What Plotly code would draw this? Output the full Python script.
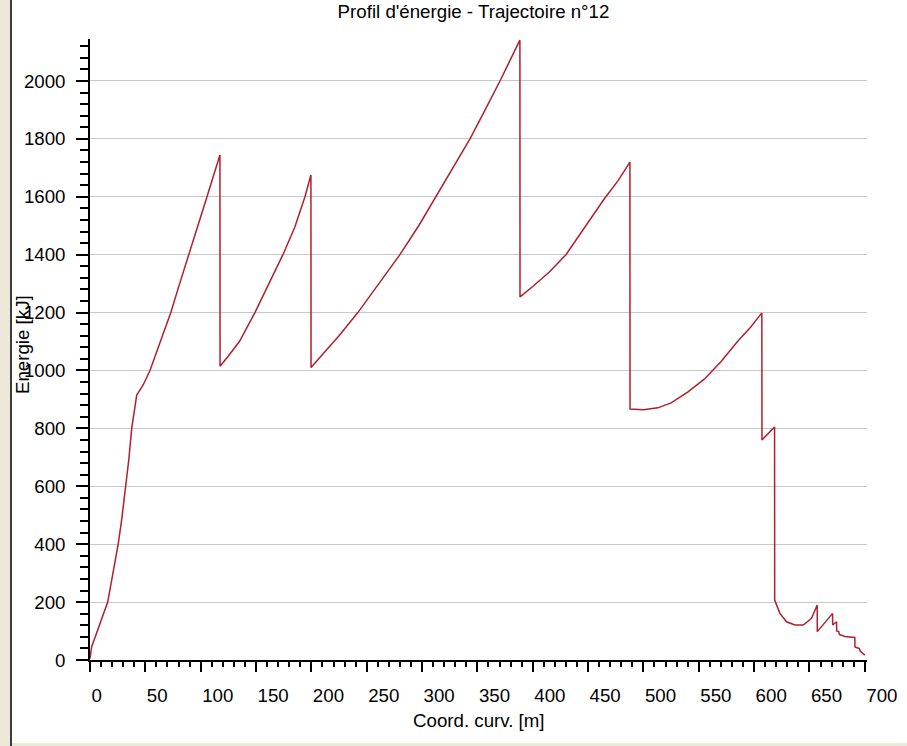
import plotly.graph_objects as go

# Data
coord_m = [0, 1.5, 6, 10.5, 16, 19.6, 25.6, 28.6, 32.5, 35, 37.7, 40.5, 42.2, 45.2, 48, 54.2, 63.5, 73, 81, 89, 97, 105.7, 117.4,
           117.5, 125, 135, 149, 160, 174.3, 185, 194.2, 199.6,
           199.7, 210, 225, 242, 260, 280, 297, 312.6, 328, 343.3, 357, 370.4, 388.4,
           388.5, 400, 415, 430, 448, 465, 477, 487.8,
           487.9, 500, 513, 525, 540, 555, 570, 585, 597, 607,
           607.1, 618.5,
           618.6, 623.3, 629.3, 636.9, 644.4, 651.9, 657,
           657.1, 670.9,
           671, 674.5, 674.6, 676.5, 677, 682, 691, 691.1, 695, 696, 700]
energy_kj = [5, 46, 93, 138, 200, 276, 404, 484, 600, 690, 800, 880, 915, 933, 950, 1000, 1100, 1200, 1300, 1400, 1500, 1600, 1744,
             1015, 1050, 1100, 1200, 1285, 1400, 1495, 1600, 1675,
             1010, 1055, 1120, 1200, 1295, 1400, 1500, 1600, 1700, 1800, 1900, 2000, 2141,
             1254, 1290, 1340, 1400, 1500, 1595, 1655, 1720,
             867, 864, 871, 888, 925, 970, 1030, 1100, 1150, 1199,
             760, 805,
             207, 161, 132, 121, 121, 144, 190,
             98, 161,
             121, 132, 100, 98, 88, 81, 78, 45, 40, 30, 17]

title_text = "Profil d'énergie - Trajectoire n°12"
x_title = "Coord. curv. [m]"
y_title = "Energie [kJ]"

FONT = "Liberation Sans, Arial, sans-serif"
FS = 18.7
L, R, T, B = 90, 40, 39, 86
W, H = 907, 746
PW, PH = W - L - R, H - T - B


def px_x(px):
    return (px - L) / PW


def px_y(py):
    return (H - B - py) / PH


fig = go.Figure()
fig.add_trace(go.Scatter(x=coord_m, y=energy_kj, mode="lines",
                         line=dict(color="#B0202C", width=1.5),
                         showlegend=False, hoverinfo="x+y"))

fig.update_layout(
    width=W, height=H,
    margin=dict(l=L, r=R, t=T, b=B, pad=0),
    paper_bgcolor="white", plot_bgcolor="white",
    font=dict(family=FONT, size=FS, color="black"),
    title=dict(text=title_text, x=473.5 / W, xanchor="center",
               y=1 - 11 / H, yanchor="middle", yref="container",
               font=dict(family=FONT, size=FS, color="black")),
    xaxis=dict(range=[0, 702], tick0=0, dtick=50, showgrid=False, zeroline=False,
               automargin=False,
               showline=True, linecolor="black", linewidth=1.5,
               ticks="outside", ticklen=10, tickwidth=1.5, tickcolor="black",
               ticklabelposition="outside right", ticklabelstandoff=18,
               tickfont=dict(family=FONT, size=FS, color="black"),
               minor=dict(dtick=10, ticks="outside", ticklen=5, tickwidth=1.5,
                          tickcolor="black", showgrid=False)),
    yaxis=dict(range=[0, 2145], tick0=0, dtick=200, showgrid=True, gridcolor="#C8C8C8",
               gridwidth=1, zeroline=False, automargin=False,
               showline=True, linecolor="black", linewidth=1.5,
               ticks="outside", ticklen=12, tickwidth=1.5, tickcolor="black",
               ticklabelstandoff=7,
               tickfont=dict(family=FONT, size=FS, color="black"),
               minor=dict(dtick=40, ticks="outside", ticklen=8, tickwidth=1.5,
                          tickcolor="black", showgrid=False)),
    annotations=[
        dict(text=x_title, xref="paper", yref="paper", x=0.5, y=px_y(720),
             xanchor="center", yanchor="middle", showarrow=False,
             font=dict(family=FONT, size=FS, color="black")),
        dict(text=y_title, xref="paper", yref="paper", x=px_x(22), y=px_y(345),
             xanchor="center", yanchor="middle", textangle=-90, showarrow=False,
             font=dict(family=FONT, size=FS, color="black")),
    ],
    shapes=[
        dict(type="rect", xref="paper", yref="paper", x0=px_x(0), x1=px_x(10),
             y0=px_y(H), y1=px_y(0), fillcolor="#ECE9D8", line=dict(width=0), layer="below"),
        dict(type="rect", xref="paper", yref="paper", x0=px_x(10), x1=px_x(12),
             y0=px_y(H), y1=px_y(0), fillcolor="#3A3A3A", line=dict(width=0), layer="below"),
        dict(type="rect", xref="paper", yref="paper", x0=px_x(12), x1=px_x(W),
             y0=px_y(H), y1=px_y(743), fillcolor="#ECE9D8", line=dict(width=0), layer="below"),
    ],
)

fig.write_html("out.html", config={"displayModeBar": False},
               post_script="document.body.style.margin='0';document.body.style.overflow='hidden';")
